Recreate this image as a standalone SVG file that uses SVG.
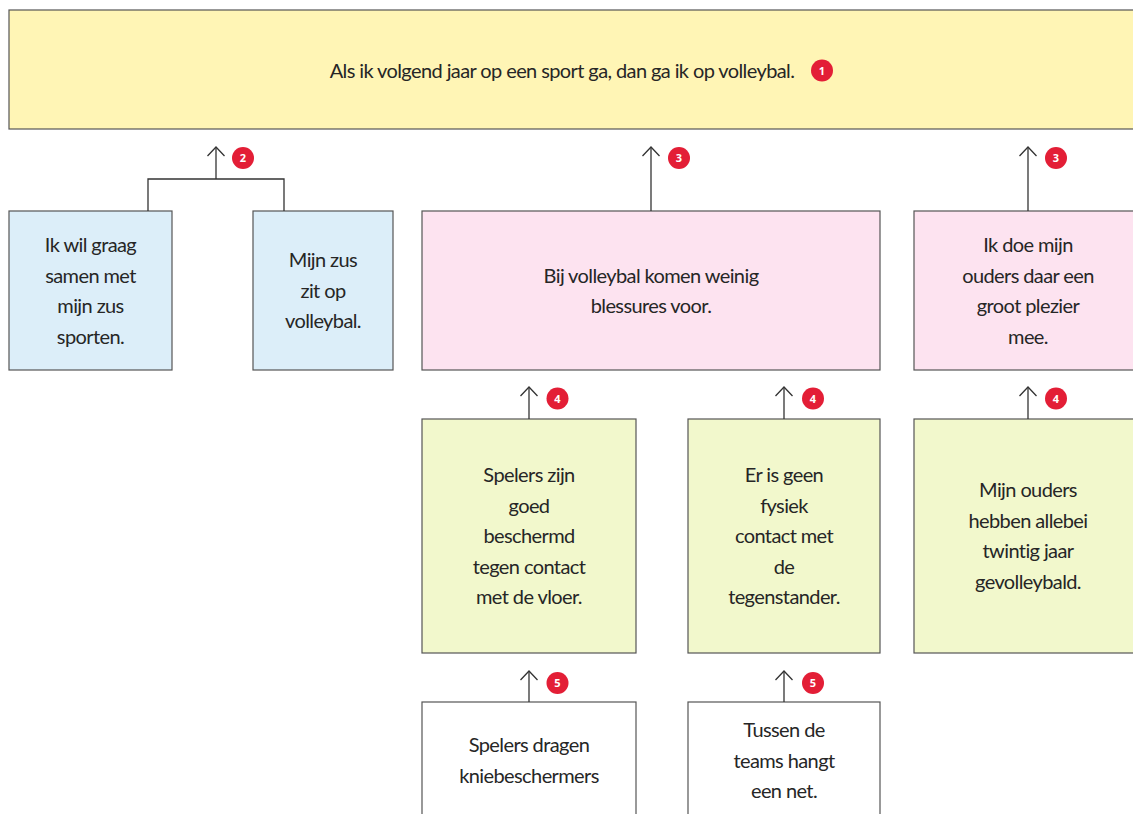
<svg xmlns="http://www.w3.org/2000/svg" width="1133" height="814" viewBox="0 0 1133 814">
<style>
.box{stroke:#555;stroke-width:1.2}
.y{fill:#FFF5B5}.b{fill:#DCEEF9}.p{fill:#FDE3F0}.g{fill:#F2F8CC}.w{fill:#FFFFFF}
.t{font-family:Lato,"Open Sans","Liberation Sans",sans-serif;font-size:20px;letter-spacing:-0.6px;fill:#262626;text-anchor:middle}
.conn{fill:none;stroke:#333;stroke-width:1.3}
.badge circle{fill:#E31E36}
.badge text{font-family:"Open Sans","Liberation Sans",sans-serif;font-size:11px;font-weight:bold;fill:#fff;text-anchor:middle}
</style>
<defs>
<marker id="arr" markerUnits="userSpaceOnUse" markerWidth="20" markerHeight="20" refX="0" refY="0" orient="auto" overflow="visible">
<path d="M-9,-8.5 L0,0 L-9,8.5" fill="none" stroke="#333" stroke-width="1.3"/>
</marker>
</defs>
<rect width="1133" height="814" fill="#fff"/>

<g id="n1">
<rect class="box y" x="9" y="10" width="1140" height="119"/>
<text class="t" x="562" y="78">Als ik volgend jaar op een sport ga, dan ga ik op volleybal.</text>
</g>

<g id="n2a">
<rect class="box b" x="9" y="211" width="163" height="159"/>
<text class="t" x="90.5"><tspan x="90.5" y="252">Ik wil graag</tspan><tspan x="90.5" y="282.5">samen met</tspan><tspan x="90.5" y="313">mijn zus</tspan><tspan x="90.5" y="343.5">sporten.</tspan></text>
</g>
<g id="n2b">
<rect class="box b" x="253" y="211" width="140" height="159"/>
<text class="t" x="323"><tspan x="323" y="267">Mijn zus</tspan><tspan x="323" y="297.5">zit op</tspan><tspan x="323" y="328">volleybal.</tspan></text>
</g>

<g id="n3a">
<rect class="box p" x="422" y="211" width="458" height="159"/>
<text class="t" x="651"><tspan x="651" y="282.5">Bij volleybal komen weinig</tspan><tspan x="651" y="313">blessures voor.</tspan></text>
</g>
<g id="n3b">
<rect class="box p" x="914" y="211" width="230" height="159"/>
<text class="t" x="1028"><tspan x="1028" y="252">Ik doe mijn</tspan><tspan x="1028" y="282.5">ouders daar een</tspan><tspan x="1028" y="313">groot plezier</tspan><tspan x="1028" y="343.5">mee.</tspan></text>
</g>

<g id="n4a">
<rect class="box g" x="422" y="419" width="214" height="234"/>
<text class="t" x="529"><tspan x="529" y="482">Spelers zijn</tspan><tspan x="529" y="512.5">goed</tspan><tspan x="529" y="543">beschermd</tspan><tspan x="529" y="573.5">tegen contact</tspan><tspan x="529" y="604">met de vloer.</tspan></text>
</g>
<g id="n4b">
<rect class="box g" x="688" y="419" width="192" height="234"/>
<text class="t" x="784"><tspan x="784" y="482">Er is geen</tspan><tspan x="784" y="512.5">fysiek</tspan><tspan x="784" y="543">contact met</tspan><tspan x="784" y="573.5">de</tspan><tspan x="784" y="604">tegenstander.</tspan></text>
</g>
<g id="n4c">
<rect class="box g" x="914" y="419" width="230" height="234"/>
<text class="t" x="1028"><tspan x="1028" y="497">Mijn ouders</tspan><tspan x="1028" y="527.5">hebben allebei</tspan><tspan x="1028" y="558">twintig jaar</tspan><tspan x="1028" y="588.5">gevolleybald.</tspan></text>
</g>

<g id="n5a">
<rect class="box w" x="422" y="702" width="214" height="130"/>
<text class="t" x="529"><tspan x="529" y="752">Spelers dragen</tspan><tspan x="529" y="782.5">kniebeschermers</tspan></text>
</g>
<g id="n5b">
<rect class="box w" x="688" y="702" width="192" height="130"/>
<text class="t" x="784"><tspan x="784" y="737">Tussen de</tspan><tspan x="784" y="767.5">teams hangt</tspan><tspan x="784" y="798">een net.</tspan></text>
</g>

<g id="connectors">
<polyline class="conn" points="148,211 148,179 284,179 284,211"/>
<line class="conn" x1="216" y1="179" x2="216" y2="147" marker-end="url(#arr)"/>
<line class="conn" x1="651" y1="211" x2="651" y2="147" marker-end="url(#arr)"/>
<line class="conn" x1="1028" y1="211" x2="1028" y2="147" marker-end="url(#arr)"/>
<line class="conn" x1="529" y1="419" x2="529" y2="387" marker-end="url(#arr)"/>
<line class="conn" x1="784" y1="419" x2="784" y2="387" marker-end="url(#arr)"/>
<line class="conn" x1="1028" y1="419" x2="1028" y2="387" marker-end="url(#arr)"/>
<line class="conn" x1="529" y1="702" x2="529" y2="671" marker-end="url(#arr)"/>
<line class="conn" x1="784" y1="702" x2="784" y2="671" marker-end="url(#arr)"/>
</g>

<g id="badges">
<g class="badge"><circle cx="822" cy="70.5" r="11"/><text x="822" y="74.5">1</text></g>
<g class="badge"><circle cx="243" cy="158" r="11"/><text x="243" y="162">2</text></g>
<g class="badge"><circle cx="679" cy="158" r="11"/><text x="679" y="162">3</text></g>
<g class="badge"><circle cx="1056" cy="158" r="11"/><text x="1056" y="162">3</text></g>
<g class="badge"><circle cx="557.5" cy="398.5" r="11"/><text x="557.5" y="402.5">4</text></g>
<g class="badge"><circle cx="813" cy="398.5" r="11"/><text x="813" y="402.5">4</text></g>
<g class="badge"><circle cx="1056" cy="398.5" r="11"/><text x="1056" y="402.5">4</text></g>
<g class="badge"><circle cx="557.5" cy="683" r="11"/><text x="557.5" y="687">5</text></g>
<g class="badge"><circle cx="813" cy="683" r="11"/><text x="813" y="687">5</text></g>
</g>
</svg>
